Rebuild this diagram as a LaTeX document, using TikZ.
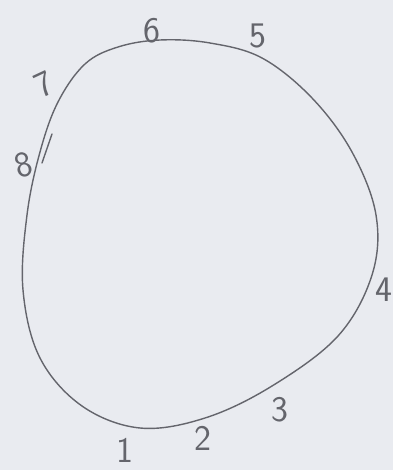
\documentclass[tikz,border=0pt]{standalone}
\definecolor{paper}{RGB}{233,235,240}
\definecolor{pencil}{RGB}{100,101,108}
\tikzset{
  lbl/.style={text=pencil, inner sep=0pt, font=\sffamily\fontsize{36}{36}\selectfont},
  pen/.style={draw=pencil, line width=1.4pt, line cap=round}
}
\begin{document}
\begin{tikzpicture}[x=1pt, y=-1pt]
    \fill[paper] (0,0) rectangle (393,470);
    \useasboundingbox (0,0) rectangle (393,470);
    % the closed loop
    \draw[pen] plot[smooth cycle, tension=0.6] coordinates {
      (160,40) (210,43) (262,58) (312,98) (352,152) (376,215) (372,275)
      (338,336) (272,386) (205,418) (140,428) (82,406) (40,358) (23,290)
      (27,215) (40,152) (58,102) (85,64) (118,47)};
    % extra stroke next to 8
    \coordinate (t8a) at (52,134);
    \coordinate (t8b) at (42,163);
    \draw[pen] (t8a) -- (t8b);
    % numbers round the loop
    \node[lbl] (n1) at (125,450) {1};
    \node[lbl] (n2) at (203,438) {2};
    \node[lbl] (n3) at (280,410) {3};
    \node[lbl] (n4) at (384,290) {4};
    \node[lbl] (n5) at (258,36) {5};
    \node[lbl] (n6) at (152,31) {6};
    \node[lbl, rotate=25] (n7) at (44,84) {7};
    \node[lbl, rotate=15] (n8) at (24,165) {8};
\end{tikzpicture}
\end{document}
